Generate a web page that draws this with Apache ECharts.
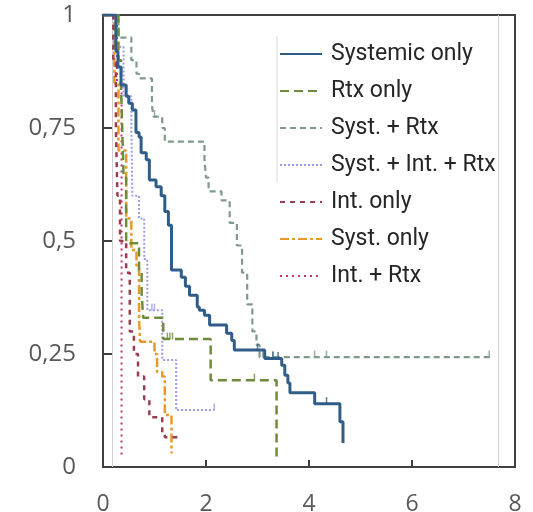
<!DOCTYPE html>
<html>
<head>
<meta charset="utf-8">
<script src="https://cdn.jsdelivr.net/npm/echarts@6/dist/echarts.min.js"></script>
<style>
  html, body { margin: 0; padding: 0; background: #fff; }
  #chart { width: 533px; height: 512px; }
</style>
</head>
<body>
<div id="chart"></div>
<script>
// survival step curves, [time, proportion]
const systemicOnly = [
  [0, 1], [0.25, 0.92], [0.29, 0.885], [0.35, 0.845], [0.45, 0.82], [0.5, 0.805],
  [0.57, 0.79], [0.64, 0.74], [0.7, 0.73], [0.74, 0.695], [0.84, 0.68], [0.9, 0.635],
  [1.03, 0.62], [1.13, 0.6], [1.2, 0.565], [1.27, 0.535], [1.33, 0.436], [1.52, 0.42],
  [1.6, 0.4], [1.68, 0.38], [1.83, 0.354], [1.87, 0.347], [1.97, 0.336], [2.07, 0.314],
  [2.4, 0.296], [2.5, 0.28], [2.55, 0.259], [3.14, 0.24], [3.47, 0.225], [3.53, 0.203],
  [3.59, 0.186], [3.63, 0.164], [4.11, 0.14], [4.6, 0.1], [4.66, 0.053]
];
const rtxOnly = [
  [0, 1], [0.3, 0.9], [0.35, 0.84], [0.38, 0.72], [0.4, 0.64], [0.45, 0.495],
  [0.7, 0.43], [0.75, 0.385], [0.78, 0.33], [1.17, 0.283], [2.09, 0.192], [3.37, 0.015]
];
const systRtx = [
  [0, 1], [0.3, 0.95], [0.55, 0.9], [0.65, 0.87], [0.7, 0.86], [0.95, 0.8], [0.98, 0.775],
  [1.15, 0.75], [1.2, 0.72], [1.97, 0.68], [2.0, 0.64], [2.05, 0.61], [2.3, 0.59],
  [2.46, 0.54], [2.6, 0.49], [2.7, 0.43], [2.8, 0.36], [2.9, 0.3], [2.98, 0.27],
  [3.04, 0.243], [7.52, 0.243]
];
const systIntRtx = [
  [0, 1], [0.25, 0.93], [0.4, 0.82], [0.55, 0.76], [0.57, 0.6], [0.7, 0.55],
  [0.8, 0.46], [0.86, 0.347], [1.15, 0.237], [1.42, 0.126], [2.16, 0.126]
];
const intOnly = [
  [0, 1], [0.2, 0.9], [0.25, 0.75], [0.28, 0.6], [0.33, 0.5], [0.45, 0.43], [0.52, 0.3],
  [0.6, 0.25], [0.68, 0.2], [0.8, 0.15], [0.9, 0.11], [1.15, 0.075], [1.2, 0.066], [1.48, 0.066]
];
const systOnly = [
  [0, 1], [0.22, 0.85], [0.3, 0.7], [0.45, 0.55], [0.55, 0.48], [0.65, 0.44], [0.7, 0.33],
  [0.72, 0.277], [1.0, 0.25], [1.05, 0.21], [1.15, 0.2], [1.2, 0.115], [1.33, 0.03]
];
const intRtx = [
  [0, 1], [0.27, 0.85], [0.36, 0.02]
];

// censoring marks, [time, proportion]
const censorSystemic = [[3.0, 0.259], [3.3, 0.24], [3.4, 0.24], [4.34, 0.14]];
const censorRtx = [[1.25, 0.283], [1.3, 0.283], [1.35, 0.283], [2.94, 0.192]];
const censorSystRtx = [[1.0, 0.775], [3.1, 0.243], [3.3, 0.243], [4.11, 0.243], [4.34, 0.243], [7.5, 0.243]];
const censorSystIntRtx = [[0.95, 0.347], [1.0, 0.347], [2.16, 0.126]];

const seriesNames = ['Systemic only', 'Rtx only', 'Syst. + Rtx', 'Syst. + Int. + Rtx', 'Int. only', 'Syst. only', 'Int. + Rtx'];
const seriesData = [systemicOnly, rtxOnly, systRtx, systIntRtx, intOnly, systOnly, intRtx];
const censorData = [censorSystemic, censorRtx, censorSystRtx, censorSystIntRtx, [], [], []];
const xTicks = [0, 2, 4, 6, 8];
const yTicks = [0, 0.25, 0.5, 0.75, 1];

const styles = [
  { color: '#2f5d87', width: 3, type: 'solid' },
  { color: '#6e8c3c', width: 2.5, type: [9, 5] },
  { color: '#7f9a8b', width: 2.2, type: [6, 4] },
  { color: '#9c9ce6', width: 2, type: [2, 2] },
  { color: '#9c3d4e', width: 2.5, type: [5, 5] },
  { color: '#e8992a', width: 2.5, type: [9, 3, 3, 3] },
  { color: '#c4336f', width: 2, type: [2, 4] }
];

const chart = echarts.init(document.getElementById('chart'));
const font = '"Open Sans", sans-serif';

const lineSeries = seriesNames.map((name, i) => ({
  name,
  type: 'line',
  step: 'end',
  symbol: 'none',
  data: seriesData[i],
  lineStyle: styles[i],
  itemStyle: { color: styles[i].color },
  z: 10 - i,
  markLine: i === 0 ? {
    silent: true, symbol: 'none', label: { show: false },
    lineStyle: { color: '#d0d0d0', width: 1, type: 'solid' },
    data: [{ xAxis: 0.18 }, { xAxis: 7.68 }]
  } : undefined
}));

const censorSeries = censorData.map((d, i) => ({
  name: 'censor-' + i,
  type: 'scatter',
  data: d,
  symbol: 'rect',
  symbolSize: [1.5, 7],
  symbolOffset: [0, -3],
  itemStyle: { color: styles[i].color },
  silent: true,
  z: 10 - i
}));

chart.setOption({
  animation: false,
  backgroundColor: '#fff',
  grid: {
    left: 103, right: 18, top: 15, bottom: 45,
    outerBoundsMode: 'none', containLabel: false,
    show: true, borderColor: '#404040', borderWidth: 2
  },
  xAxis: {
    type: 'value', min: 0, max: 8, interval: 2,
    axisLine: { lineStyle: { color: '#404040', width: 2 } },
    axisTick: { inside: true, length: 7, lineStyle: { color: '#404040', width: 2 } },
    axisLabel: {
      margin: 26, color: '#595959', fontSize: 23, fontFamily: font,
      formatter: v => xTicks.includes(v) ? String(v) : ''
    },
    splitLine: { show: false }
  },
  yAxis: {
    type: 'value', min: 0, max: 1, interval: 0.25,
    axisLine: { show: true, lineStyle: { color: '#404040', width: 2 } },
    axisTick: { show: true, inside: true, length: 9, lineStyle: { color: '#404040', width: 2 } },
    axisLabel: {
      margin: 27, color: '#595959', fontSize: 24, fontFamily: font,
      formatter: v => yTicks.includes(v) ? String(v).replace('.', ',') : ''
    },
    splitLine: { show: false }
  },
  legend: {
    orient: 'vertical', left: 274, top: 35,
    itemWidth: 42, itemHeight: 14, itemGap: 9,
    itemStyle: { opacity: 0 },
    textStyle: {
      color: '#262626', fontSize: 23, fontFamily: 'Roboto, sans-serif',
      lineHeight: 28, padding: [0, 0, 0, 4]
    },
    data: seriesNames
  },
  graphic: [{
    type: 'line', silent: true,
    shape: { x1: 277, y1: 36, x2: 277, y2: 182 },
    style: { stroke: '#d9d9d9', lineWidth: 1 }
  }],
  series: lineSeries.concat(censorSeries)
});
</script>
</body>
</html>
